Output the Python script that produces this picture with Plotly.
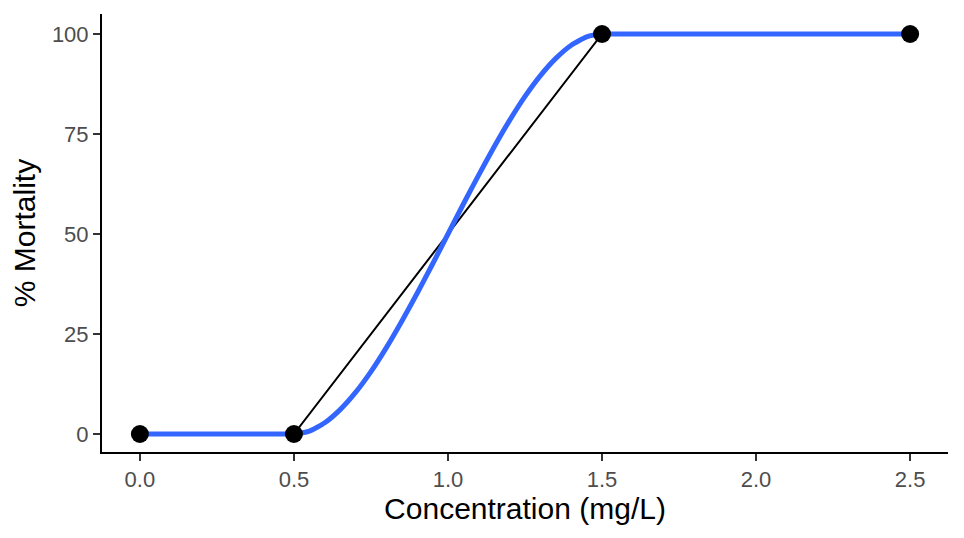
import plotly.graph_objects as go

# observed data
conc = [0.0, 0.5, 1.5, 2.5]
mortality = [0, 0, 100, 100]

# fitted curve
curve_x = [0.0, 0.25, 0.45, 0.5, 0.55, 0.6, 0.65, 0.7, 0.75, 0.8, 0.85, 0.9, 0.95, 1.0,
           1.05, 1.1, 1.15, 1.2, 1.25, 1.3, 1.35, 1.4, 1.45, 1.5, 1.55, 2.0, 2.5]
curve_y = [0, 0, 0, 0, 0.7, 2.8, 6.1, 10.4, 15.6, 21.6, 28.2, 35.2, 42.5, 50,
           57.5, 64.8, 71.8, 78.4, 84.4, 89.6, 93.9, 97.2, 99.3, 100, 100, 100, 100]

x_ticks = [0.0, 0.5, 1.0, 1.5, 2.0, 2.5]
y_ticks = [0, 25, 50, 75, 100]

fig = go.Figure()
fig.add_trace(go.Scatter(x=conc, y=mortality, mode='lines',
                         line=dict(color='black', width=2), hoverinfo='skip'))
fig.add_trace(go.Scatter(x=curve_x, y=curve_y, mode='lines',
                         line=dict(color='#3366FF', width=5, shape='spline', smoothing=0.5)))
fig.add_trace(go.Scatter(x=conc, y=mortality, mode='markers',
                         marker=dict(color='black', size=18)))

axis_style = dict(showline=True, linecolor='black', linewidth=2, ticks='outside',
                  ticklen=7, tickwidth=2, tickcolor='#333333', showgrid=False,
                  zeroline=False, tickfont=dict(size=22, color='#4D4D4D'),
                  title_font=dict(size=30, color='black'))

# page has an 8px body margin, so the figure is sized to fit the window
fig.update_layout(
    width=956, height=530,
    margin=dict(l=94, r=16, t=6, b=86),
    plot_bgcolor='white', paper_bgcolor='white',
    font=dict(family='Liberation Sans, Arial, sans-serif'),
    showlegend=False,
)
fig.update_xaxes(axis_style, range=[-0.123, 2.623], tickvals=x_ticks,
                 ticktext=[f'{v:.1f}' for v in x_ticks],
                 title_text='Concentration (mg/L)', title_standoff=5)
fig.update_yaxes(axis_style, range=[-4.5, 105], tickvals=y_ticks,
                 title_text='% Mortality', title_standoff=8)

fig.write_html("out.html")
